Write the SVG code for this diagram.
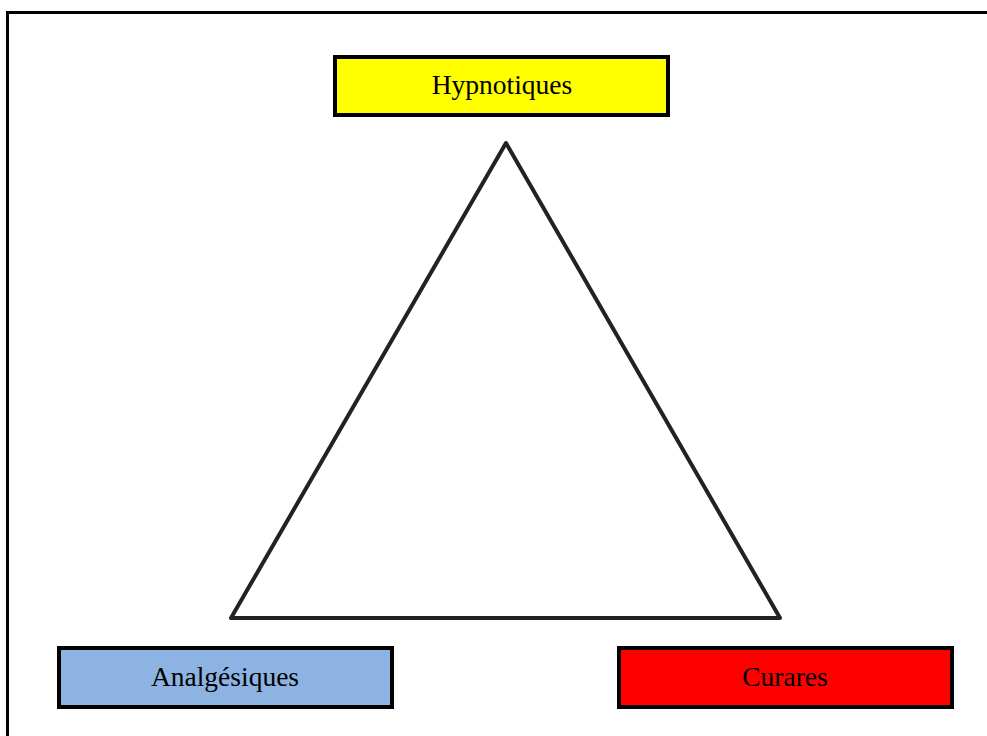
<svg xmlns="http://www.w3.org/2000/svg" width="987" height="736" viewBox="0 0 987 736">
<style>
.box{stroke:#000;stroke-width:4}
.lbl{font-family:"Liberation Serif","Times New Roman",serif;font-size:27.5px;fill:#000;text-anchor:middle}
</style>
<rect x="0" y="0" width="987" height="736" fill="#fff"/>
<rect id="frame" x="7.5" y="12.5" width="1000" height="760" fill="none" stroke="#000" stroke-width="3"/>
<g id="connectors">
<polygon points="506,143 231,618 780,618" fill="#fff" stroke="#222" stroke-width="4" stroke-linejoin="round"/>
</g>
<g id="hypnotiques">
<rect class="box" x="335" y="57" width="333" height="58" fill="#ffff00"/>
<text class="lbl" x="502" y="94">Hypnotiques</text>
</g>
<g id="analgesiques">
<rect class="box" x="59" y="648" width="333" height="59" fill="#8db3e2"/>
<text class="lbl" x="225" y="686">Analgésiques</text>
</g>
<g id="curares">
<rect class="box" x="619" y="648" width="333" height="59" fill="#ff0000"/>
<text class="lbl" x="785" y="686">Curares</text>
</g>
</svg>
